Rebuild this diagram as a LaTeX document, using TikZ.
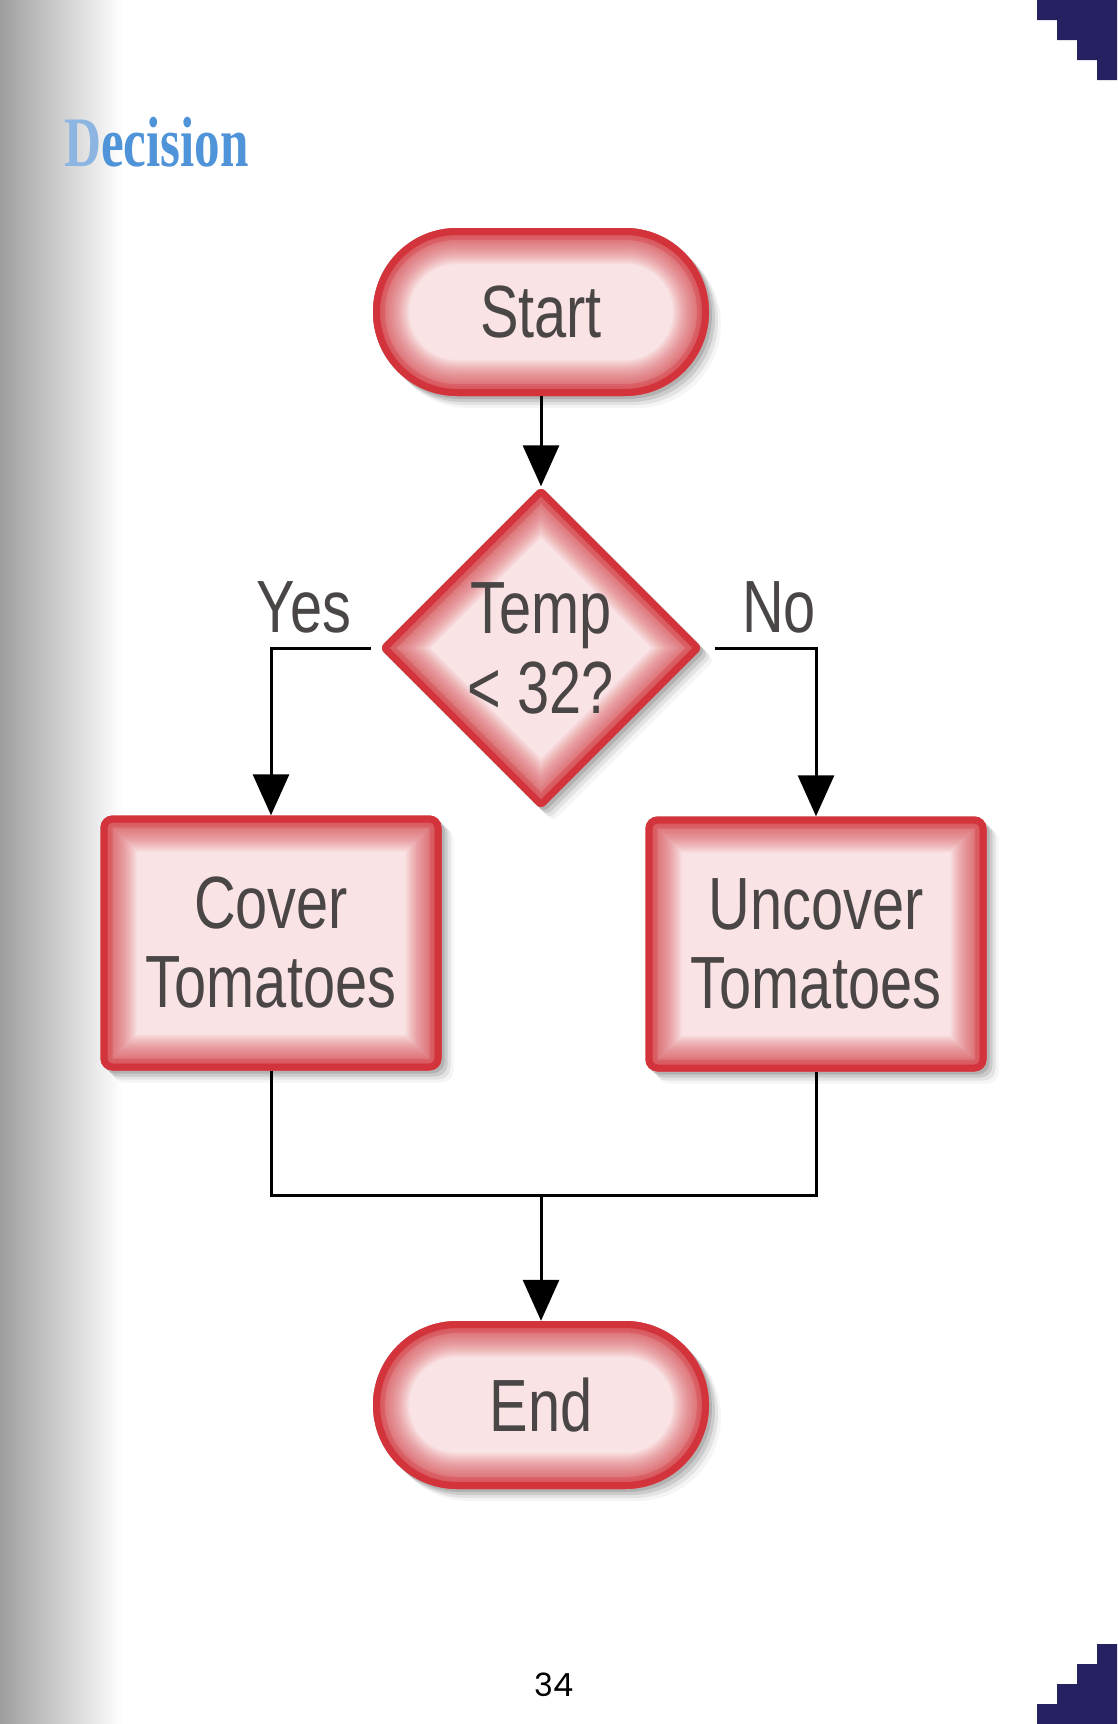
\documentclass[tikz,border=0pt]{standalone}
\usepackage{fontspec}
\setmainfont{Liberation Sans}
\newfontfamily\boxfont[FakeStretch=0.78]{Liberation Sans}
\newfontfamily\titlefont[FakeStretch=0.72]{Liberation Serif}
\newfontfamily\numfont{Poppins}
\usetikzlibrary{arrows.meta,shapes.geometric,shadows}
\definecolor{navy}{HTML}{262262}
\definecolor{glowred}{HTML}{D3333A}
\definecolor{pinkfill}{HTML}{F9E3E4}
\definecolor{boxtext}{HTML}{4A4646}
\definecolor{titleblue}{HTML}{4F93D8}
\definecolor{titlelight}{HTML}{8DB5E2}
\tikzset{
  softshadow/.style={
    drop shadow={shadow xshift=3pt, shadow yshift=-3pt, fill=black, opacity=0.12},
    drop shadow={shadow xshift=6pt, shadow yshift=-6pt, fill=black, opacity=0.10},
    drop shadow={shadow xshift=9pt, shadow yshift=-9pt, fill=black, opacity=0.07},
    drop shadow={shadow xshift=12pt, shadow yshift=-12pt, fill=black, opacity=0.04}},
  shapetext/.style={font=\boxfont\fontsize{74}{79}\selectfont, text=boxtext, align=center, inner sep=0pt},
  terminal/.style={shapetext, softshadow, fill=pinkfill, rectangle, rounded corners=84pt,
    minimum width=336pt, minimum height=168pt,
    path picture={
      \foreach \i in {1,...,20}{
        \draw[draw=glowred, line width=12pt+3pt*\i, opacity=0.05, rounded corners=84pt]
          (path picture bounding box.north west) rectangle (path picture bounding box.south east);}
      \foreach \w/\o in {24/0.3,14/1}{
        \draw[draw=glowred, line width=\w pt, opacity=\o, rounded corners=84pt]
          (path picture bounding box.north west) rectangle (path picture bounding box.south east);}}},
  procbox/.style={shapetext, softshadow, fill=pinkfill, rectangle, rounded corners=12pt,
    minimum width=341pt, minimum height=255pt,
    path picture={
      \foreach \i in {1,...,20}{
        \draw[draw=glowred, line width=12pt+3pt*\i, opacity=0.05, rounded corners=12pt]
          (path picture bounding box.north west) rectangle (path picture bounding box.south east);}
      \foreach \w/\o in {24/0.3,14/1}{
        \draw[draw=glowred, line width=\w pt, opacity=\o, rounded corners=12pt]
          (path picture bounding box.north west) rectangle (path picture bounding box.south east);}}},
  decbox/.style={shapetext, softshadow, fill=pinkfill, diamond, aspect=1, rounded corners=6pt,
    minimum width=323pt, minimum height=323pt,
    path picture={
      \foreach \i in {1,...,20}{
        \draw[draw=glowred, line width=12pt+3pt*\i, opacity=0.05, rounded corners=6pt]
          (path picture bounding box.north) -- (path picture bounding box.east) --
          (path picture bounding box.south) -- (path picture bounding box.west) -- cycle;}
      \foreach \w/\o in {24/0.3,14/1}{
        \draw[draw=glowred, line width=\w pt, opacity=\o, rounded corners=6pt]
          (path picture bounding box.north) -- (path picture bounding box.east) --
          (path picture bounding box.south) -- (path picture bounding box.west) -- cycle;}}},
  wire/.style={draw=black, line width=3pt, line join=miter},
  conn/.style={wire, -{Triangle[length=41pt, width=36pt]}},
  label/.style={font=\boxfont\fontsize{74}{79}\selectfont, text=boxtext, inner sep=0pt, anchor=base}
}
\begin{document}
\begin{tikzpicture}[x=1pt,y=-1pt]
\useasboundingbox (0,0) rectangle (1117,1724);
\fill[white] (0,0) rectangle (1117,1724);
\shade[left color=black!38, right color=white] (0,0) rectangle (122,1724);
% corner staircases
\fill[navy] (1037,0) -- (1117,0) -- (1117,80) -- (1097,80) -- (1097,60) -- (1077,60)
  -- (1077,40) -- (1057,40) -- (1057,20) -- (1037,20) -- cycle;
\fill[navy] (1117,1644) -- (1117,1724) -- (1037,1724) -- (1037,1704) -- (1057,1704)
  -- (1057,1684) -- (1077,1684) -- (1077,1664) -- (1097,1664) -- (1097,1644) -- cycle;
% title
\node[anchor=base west, inner sep=0pt, font=\titlefont\bfseries\fontsize{71}{71}\selectfont]
  (title) at (64,166) {\textcolor{titlelight}{D}\textcolor{titleblue}{ecision}};
% shapes
\node[terminal] (start) at (541,312) {Start};
\node[decbox] (dec) at (541,648) {Temp\\[1pt]< 32?};
\node[procbox] (cover) at (271,943) {Cover\\Tomatoes};
\node[procbox] (uncover) at (816,944) {Uncover\\Tomatoes};
\node[terminal] (end) at (541,1405) {End};
\coordinate (merge) at (541,1195);
% labels
\node[label] (yes) at (304,632) {Yes};
\node[label] (no) at (779,632) {No};
% connectors
\draw[conn] (start.south) -- (dec.north);
\draw[conn, shorten <=8pt] (dec.west) -| (cover.north);
\draw[conn, shorten <=12pt] (dec.east) -| (uncover.north);
\draw[wire] (cover.south) |- (merge) -| (uncover.south);
\draw[conn] (merge) -- (end.north);
% page number
\node[anchor=base, inner sep=0pt, font=\numfont\fontsize{32}{32}\selectfont] (page) at (554,1696) {34};
\end{tikzpicture}
\end{document}
